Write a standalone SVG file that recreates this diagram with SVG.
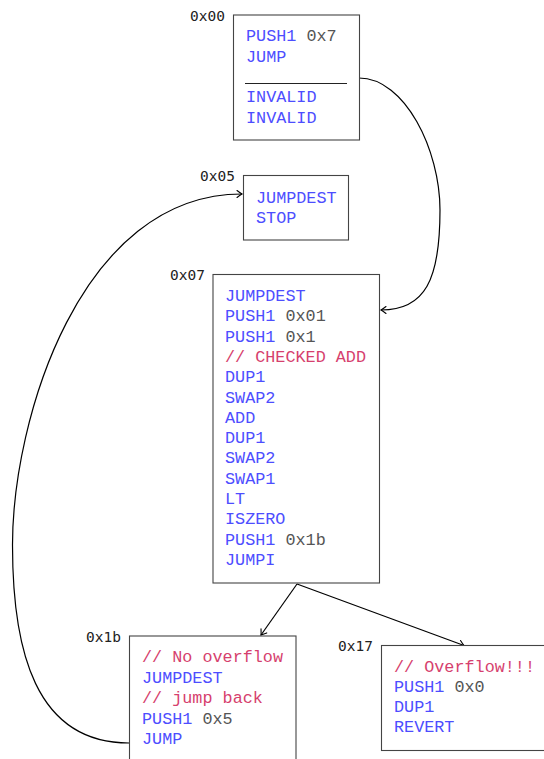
<svg xmlns="http://www.w3.org/2000/svg" width="544" height="759" viewBox="0 0 544 759">
<style>
.box{fill:#fff;stroke:#444;stroke-width:1.1}
.code{font-family:"Liberation Mono","Courier New",monospace;font-size:16.8px;fill:#4d4dff}
.num{fill:#555}
.cm{fill:#d63f6e}
.lbl{font-family:"DejaVu Sans Mono","Liberation Mono",monospace;font-size:14.5px;fill:#222}
.edge{fill:none;stroke:#000;stroke-width:1.2}
</style>
<defs>
<marker id="ah" markerUnits="userSpaceOnUse" markerWidth="12" markerHeight="12" refX="0" refY="0" viewBox="-6 -6 12 12" orient="auto" overflow="visible">
<path d="M-5,-3.5 Q-1.5,-0.8 0,0 Q-1.5,0.8 -5,3.5" fill="none" stroke="#000" stroke-width="1.1" stroke-linecap="round"/>
</marker>
</defs>
<rect width="544" height="759" fill="#fff"/>
<g id="edges">
<path class="edge" d="M359,78 C405,78 440,150 440,210 C440,280 425,310 381,310" marker-end="url(#ah)"/>
<path class="edge" d="M129,743 C35,743 12.5,650 12.5,545 C12.5,420 80,194 242,194" marker-end="url(#ah)"/>
<path class="edge" d="M297,584 L261,635" marker-end="url(#ah)"/>
<path class="edge" d="M297,584 L464,645.5" marker-end="url(#ah)"/>
</g>
<g id="n00">
<rect class="box" x="233.5" y="15" width="126" height="125"/>
<text class="lbl" x="190" y="21">0x00</text>
<text class="code" x="246" y="41">PUSH1 <tspan class="num">0x7</tspan></text>
<text class="code" x="246" y="61.5">JUMP</text>
<line x1="245" y1="83.5" x2="347" y2="83.5" stroke="#222" stroke-width="1"/>
<text class="code" x="246" y="102">INVALID</text>
<text class="code" x="246" y="122.5">INVALID</text>
</g>
<g id="n05">
<rect class="box" x="243.5" y="175.5" width="105" height="64.5"/>
<text class="lbl" x="200" y="180.5">0x05</text>
<text class="code" x="256" y="202.5">JUMPDEST</text>
<text class="code" x="256" y="222.5">STOP</text>
</g>
<g id="n07">
<rect class="box" x="213" y="274.5" width="166.5" height="308.5"/>
<text class="lbl" x="170" y="279.5">0x07</text>
<text class="code" x="225" y="301">JUMPDEST</text>
<text class="code" x="225" y="321.3">PUSH1 <tspan class="num">0x01</tspan></text>
<text class="code" x="225" y="341.6">PUSH1 <tspan class="num">0x1</tspan></text>
<text class="code cm" x="225" y="361.9">// CHECKED ADD</text>
<text class="code" x="225" y="382.2">DUP1</text>
<text class="code" x="225" y="402.5">SWAP2</text>
<text class="code" x="225" y="422.8">ADD</text>
<text class="code" x="225" y="443.1">DUP1</text>
<text class="code" x="225" y="463.4">SWAP2</text>
<text class="code" x="225" y="483.7">SWAP1</text>
<text class="code" x="225" y="504">LT</text>
<text class="code" x="225" y="524.3">ISZERO</text>
<text class="code" x="225" y="544.6">PUSH1 <tspan class="num">0x1b</tspan></text>
<text class="code" x="225" y="564.9">JUMPI</text>
</g>
<g id="n1b">
<rect class="box" x="129.5" y="636" width="166.5" height="140"/>
<text class="lbl" x="86" y="641.5">0x1b</text>
<text class="code cm" x="142" y="662">// No overflow</text>
<text class="code" x="142" y="682.5">JUMPDEST</text>
<text class="code cm" x="142" y="703">// jump back</text>
<text class="code" x="142" y="723.5">PUSH1 <tspan class="num">0x5</tspan></text>
<text class="code" x="142" y="744">JUMP</text>
</g>
<g id="n17">
<rect class="box" x="381.5" y="645.5" width="170" height="105"/>
<text class="lbl" x="338" y="651">0x17</text>
<text class="code cm" x="394" y="672">// Overflow!!!</text>
<text class="code" x="394" y="692">PUSH1 <tspan class="num">0x0</tspan></text>
<text class="code" x="394" y="712">DUP1</text>
<text class="code" x="394" y="732">REVERT</text>
</g>
</svg>
